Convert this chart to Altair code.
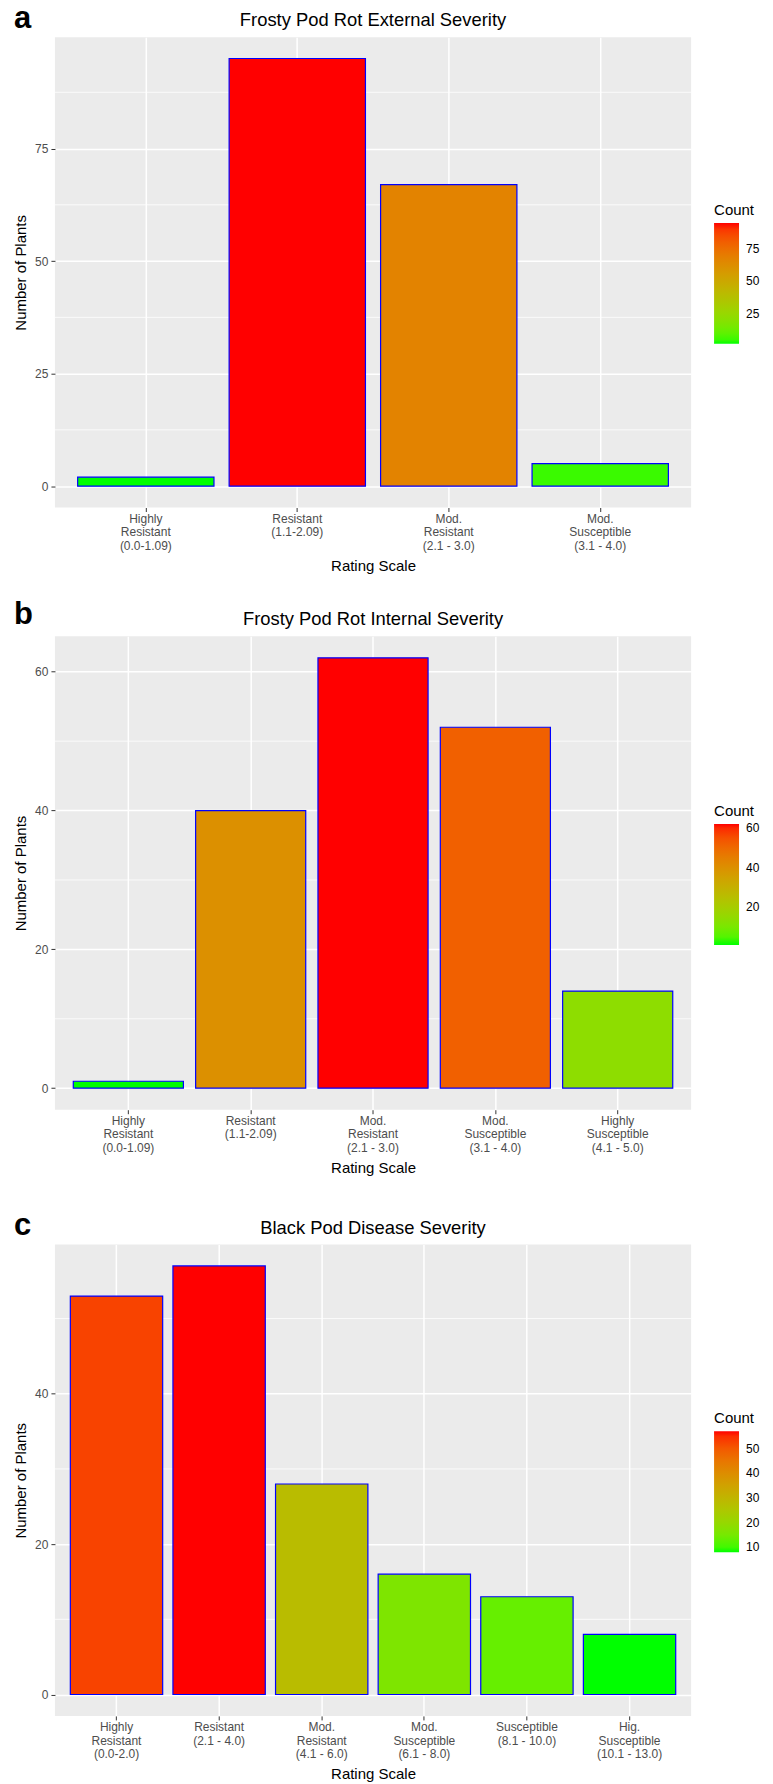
import altair as alt
import pandas as pd

FONT = "Liberation Sans"

# ---------------- data ----------------
a_labels = ["Highly\nResistant\n(0.0-1.09)", "Resistant\n(1.1-2.09)",
            "Mod.\nResistant\n(2.1 - 3.0)", "Mod.\nSusceptible\n(3.1 - 4.0)"]
a_counts = [2, 95, 67, 5]
a_ticks = [0, 25, 50, 75]
a_minor = [12.5, 37.5, 62.5, 87.5]
a_legend = [25, 50, 75]

b_labels = ["Highly\nResistant\n(0.0-1.09)", "Resistant\n(1.1-2.09)",
            "Mod.\nResistant\n(2.1 - 3.0)", "Mod.\nSusceptible\n(3.1 - 4.0)",
            "Highly\nSusceptible\n(4.1 - 5.0)"]
b_counts = [1, 40, 62, 52, 14]
b_ticks = [0, 20, 40, 60]
b_minor = [10, 30, 50]
b_legend = [20, 40, 60]

c_labels = ["Highly\nResistant\n(0.0-2.0)", "Resistant\n(2.1 - 4.0)",
            "Mod.\nResistant\n(4.1 - 6.0)", "Mod.\nSusceptible\n(6.1 - 8.0)",
            "Susceptible\n(8.1  - 10.0)", "Hig.\nSusceptible\n(10.1 - 13.0)"]
c_counts = [53, 57, 28, 16, 13, 8]
c_ticks = [0, 20, 40]
c_minor = [10, 30, 50]
c_legend = [10, 20, 30, 40, 50]

W = 637


def panel(letter, title, labels, counts, ticks, minor, legend_vals,
          height, letter_y, legend_y, spacer=None):
    df = pd.DataFrame({"Rating": labels, "Count": counts})
    lo, hi = min(counts), max(counts)
    ydom = [-0.05 * hi, 1.05 * hi]

    xenc = alt.X(
        "Rating:N", sort=labels, title="Rating Scale",
        scale=alt.Scale(paddingInner=0.1, paddingOuter=0.15),
        axis=alt.Axis(
            labelExpr="split(datum.label, '\\n')", labelAngle=0,
            labelFont=FONT, labelFontSize=12, labelLineHeight=13.3,
            labelColor="#4D4D4D", labelOverlap=False, labelPadding=2,
            tickSize=4, tickColor="#333333", tickWidth=1,
            grid=True, gridColor="white", gridWidth=1.5, bandPosition=0.5,
            domain=False, titleFont=FONT, titleFontSize=15,
            titleFontWeight="normal", titleColor="black", titlePadding=7,
        ),
    )
    yaxis = alt.Axis(
        values=ticks, grid=True, gridColor="white", gridWidth=1.5,
        domain=False, tickSize=4, tickColor="#333333", tickWidth=1,
        labelFont=FONT, labelFontSize=12, labelColor="#4D4D4D", labelPadding=3,
        titleFont=FONT, titleFontSize=15, titleFontWeight="normal",
        titleColor="black", titlePadding=6,
    )
    yscale = alt.Scale(domain=ydom, nice=False, zero=False)
    yenc = alt.Y("Count:Q", title="Number of Plants", scale=yscale, axis=yaxis)

    color = alt.Color(
        "Count:Q",
        scale=alt.Scale(domain=[lo, hi], range=["#00FF00", "#FF0000"],
                        interpolate="lab"),
        legend=alt.Legend(
            title="Count", orient="none", legendX=W + 23, legendY=legend_y,
            values=legend_vals, direction="vertical",
            gradientLength=121, gradientThickness=25, gradientStrokeWidth=0,
            titleFont=FONT, titleFontSize=15, titleFontWeight="normal",
            titleColor="black", titlePadding=5,
            labelFont=FONT, labelFontSize=12, labelColor="black", labelOffset=7,
            padding=0,
        ),
    )

    minor_df = pd.DataFrame({"Count": minor})
    rules = alt.Chart(minor_df).mark_rule(color="white", strokeWidth=0.8).encode(y=yenc)

    bars = alt.Chart(df).mark_bar(stroke="#0000FF", strokeWidth=1.2).encode(
        x=xenc, y=yenc, y2=alt.datum(0), color=color
    )

    tdf = pd.DataFrame({"t": [title]})
    ttl = alt.Chart(tdf).mark_text(
        font=FONT, fontSize=18.4, color="black", align="center", baseline="alphabetic"
    ).encode(text="t:N", x=alt.value(W / 2), y=alt.value(-11))

    ldf = pd.DataFrame({"l": [letter]})
    let = alt.Chart(ldf).mark_text(
        font=FONT, fontSize=31, fontWeight="bold", color="black",
        align="left", baseline="alphabetic"
    ).encode(text="l:N", x=alt.value(-41), y=alt.value(letter_y))

    layers = [rules, bars, ttl, let]
    if spacer is not None:
        sp = alt.Chart(ldf).mark_rule(opacity=0).encode(
            x=alt.value(0), y=alt.value(-spacer), y2=alt.value(-spacer + 1)
        )
        layers.append(sp)
    return alt.layer(*layers).properties(width=W, height=height)


pa = panel("a", "Frosty Pod Rot External Severity", a_labels, a_counts, a_ticks,
           a_minor, a_legend, height=471, letter_y=-9, legend_y=166)
pb = panel("b", "Frosty Pod Rot Internal Severity", b_labels, b_counts, b_ticks,
           b_minor, b_legend, height=474, letter_y=-12, legend_y=168)
pc = panel("c", "Black Pod Disease Severity", c_labels, c_counts, c_ticks,
           c_minor, c_legend, height=472, letter_y=-10, legend_y=167, spacer=43)

chart = alt.vconcat(pa, pb, pc, spacing=26).resolve_scale(
    color="independent", x="independent", y="independent"
).properties(
    padding={"left": 5, "top": -6, "right": 5, "bottom": 0},
    background="white",
).configure_view(fill="#EBEBEB", stroke=None)

chart.save("out.html", embed_options={"renderer": "svg", "actions": False})
